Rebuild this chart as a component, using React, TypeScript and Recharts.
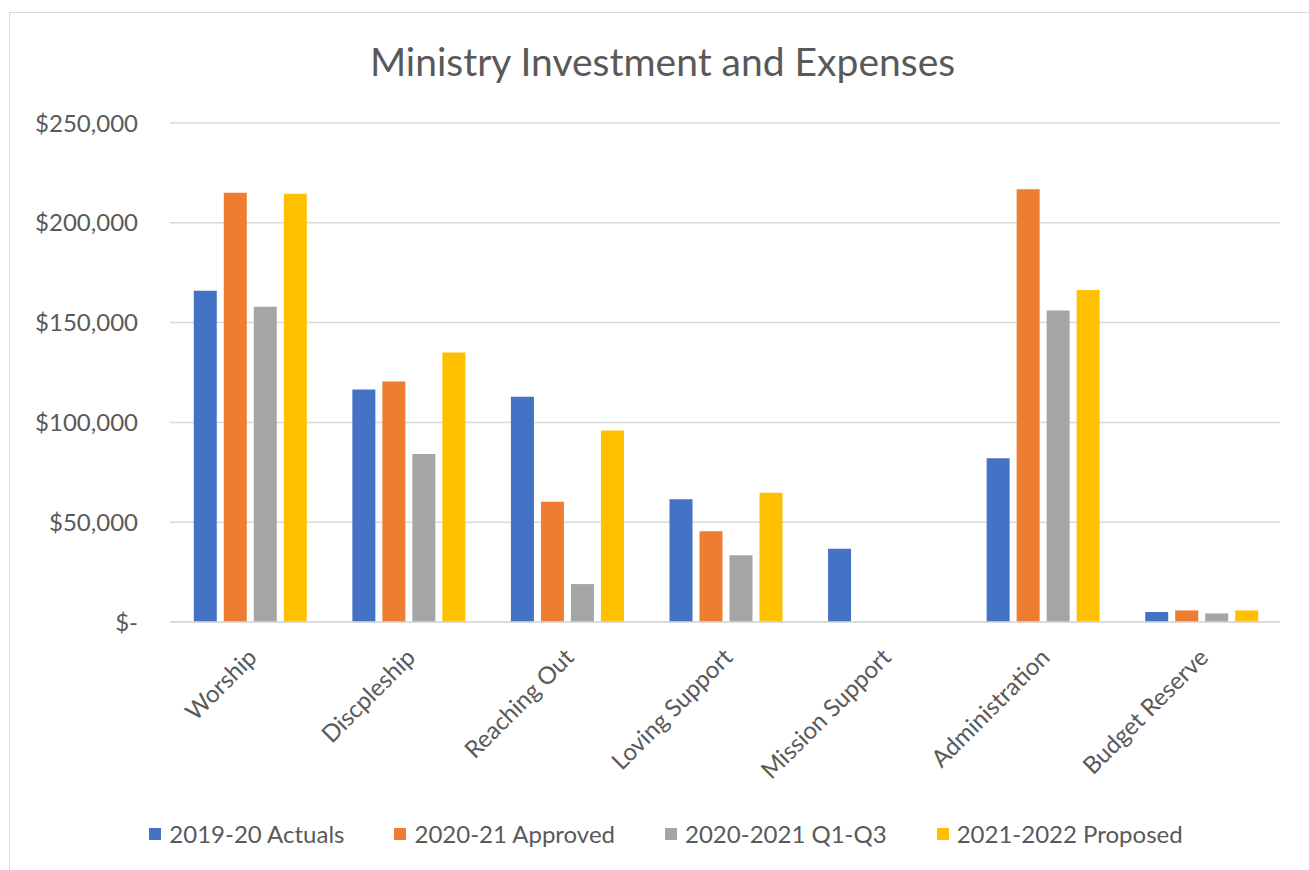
import { BarChart, Bar, XAxis, YAxis, CartesianGrid } from 'recharts';

const categories = ['Worship', 'Discpleship', 'Reaching Out', 'Loving Support', 'Mission Support', 'Administration', 'Budget Reserve'];
const actuals1920 = [166000, 116500, 112800, 61500, 36700, 82000, 5000];
const approved2021 = [215000, 120500, 60200, 45500, 0, 216800, 5800];
const q1q3_2021 = [158000, 84200, 19000, 33500, 0, 156000, 4300];
const proposed2122 = [214500, 135000, 96000, 64700, 0, 166300, 5800];
const yTicks = [0, 50000, 100000, 150000, 200000, 250000];

const seriesNames = ['2019-20 Actuals', '2020-21 Approved', '2020-2021 Q1-Q3', '2021-2022 Proposed'];
const seriesColors = ['#4472C4', '#ED7D31', '#A5A5A5', '#FFC000'];

const data = categories.map((name, i) => ({
  name,
  a: actuals1920[i],
  b: approved2021[i],
  c: q1q3_2021[i],
  d: proposed2122[i],
}));

const FONT = 'Lato, "Open Sans", sans-serif';
const TEXT = '#595959';

const fmtMoney = (v: number) => (v === 0 ? '$-' : '$' + v.toLocaleString('en-US'));

const XTick = (props: any) => {
  const { x, y, payload } = props;
  const tx = x + 9;
  const ty = y + 29;
  return (
    <text
      x={tx}
      y={ty}
      transform={`rotate(-45, ${tx}, ${ty})`}
      textAnchor="end"
      fill={TEXT}
      fontSize={24}
      fontFamily={FONT}
    >
      {payload.value}
    </text>
  );
};

export default function App() {
  return (
    <div style={{ position: 'absolute', left: 0, top: 0, width: 1309, height: 870, background: '#fff' }}>
      <div
        style={{
          position: 'absolute',
          left: 9,
          top: 12,
          width: 1310,
          height: 870,
          border: '1px solid #d9d9d9',
          boxSizing: 'border-box',
        }}
      />
      <div
        style={{
          position: 'absolute',
          top: 38,
          left: 0,
          width: 1325,
          textAlign: 'center',
          fontFamily: FONT,
          fontSize: 39,
          color: TEXT,
        }}
      >
        Ministry Investment and Expenses
      </div>
      <div style={{ position: 'absolute', left: 0, top: 0 }}>
        <BarChart
          width={1309}
          height={870}
          data={data}
          margin={{ top: 123, right: 29, left: 0, bottom: 0 }}
          barCategoryGap="15%"
          barGap={7}
        >
          <CartesianGrid vertical={false} stroke="#d9d9d9" strokeWidth={1.5} />
          <XAxis
            dataKey="name"
            axisLine={{ stroke: '#d9d9d9', strokeWidth: 1.5 }}
            tickLine={false}
            interval={0}
            tick={<XTick />}
            height={248}
          />
          <YAxis
            width={170}
            domain={[0, 250000]}
            ticks={yTicks}
            tickFormatter={fmtMoney}
            axisLine={false}
            tickLine={false}
            tickSize={0}
            tickMargin={32}
            tick={{ fill: TEXT, fontSize: 24, fontFamily: FONT }}
          />
          <Bar dataKey="a" name={seriesNames[0]} fill={seriesColors[0]} isAnimationActive={false} />
          <Bar dataKey="b" name={seriesNames[1]} fill={seriesColors[1]} isAnimationActive={false} />
          <Bar dataKey="c" name={seriesNames[2]} fill={seriesColors[2]} isAnimationActive={false} />
          <Bar dataKey="d" name={seriesNames[3]} fill={seriesColors[3]} isAnimationActive={false} />
        </BarChart>
      </div>
      <div
        style={{
          position: 'absolute',
          top: 819,
          left: 0,
          width: 1332,
          display: 'flex',
          justifyContent: 'center',
          gap: 50,
          fontFamily: FONT,
          fontSize: 24,
          color: TEXT,
        }}
      >
        {seriesNames.map((n, i) => (
          <div key={n} style={{ display: 'flex', alignItems: 'center' }}>
            <span style={{ width: 12, height: 12, background: seriesColors[i], display: 'inline-block', marginRight: 8 }} />
            <span>{n}</span>
          </div>
        ))}
      </div>
    </div>
  );
}
